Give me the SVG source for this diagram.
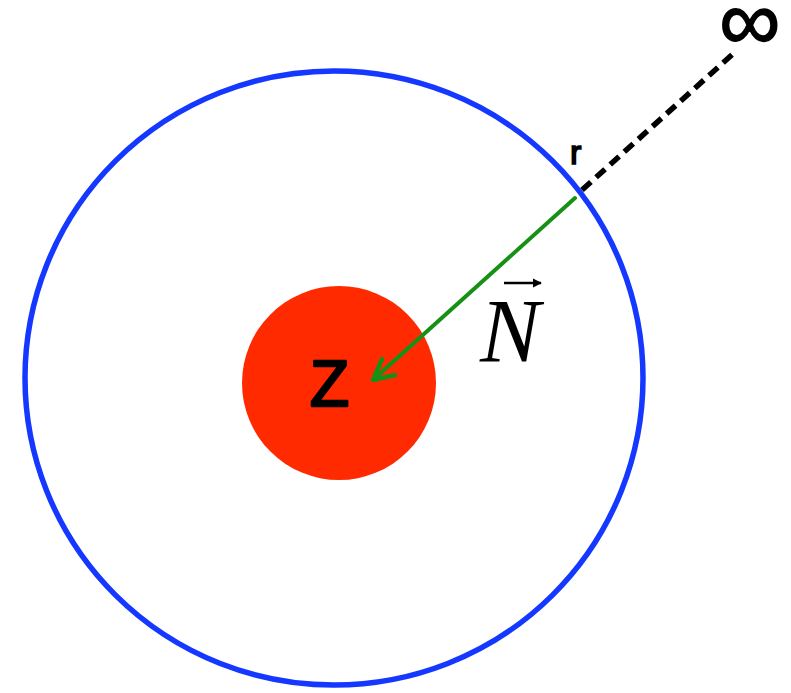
<svg xmlns="http://www.w3.org/2000/svg" width="791" height="693" viewBox="0 0 791 693">
  <style>
    .lbl { font-family: "Liberation Sans", "DejaVu Sans", sans-serif; fill: #000; }
    .math { font-family: "Liberation Serif", "DejaVu Serif", serif; font-style: italic; fill: #000; }
  </style>
  <defs>
    <marker id="vecHead" viewBox="0 0 10 10" refX="9" refY="5" markerWidth="3.5" markerHeight="3.5" orient="auto" markerUnits="strokeWidth">
      <path d="M0,0 L10,5 L0,10 Z" fill="#000"/>
    </marker>
  </defs>
  <rect width="791" height="693" fill="#fff"/>

  <g id="outer-sphere">
    <ellipse cx="334" cy="378" rx="309" ry="307" fill="none" stroke="#1438ff" stroke-width="5.5"/>
  </g>

  <g id="nucleus">
    <circle cx="339" cy="383" r="97" fill="#ff2a00"/>
    <text class="lbl" x="310" y="406" font-size="64" stroke="#000" stroke-width="2.6" stroke-linejoin="round">Z</text>
  </g>

  <g id="connectors">
    <line x1="582" y1="190" x2="735" y2="52" stroke="#000" stroke-width="5.5" stroke-dasharray="12,7"/>
    <line x1="575" y1="198" x2="374" y2="379" stroke="#169116" stroke-width="4" stroke-linecap="round"/>
    <polyline points="382,359 373,380 395,375" fill="none" stroke="#169116" stroke-width="4.5" stroke-linecap="round" stroke-linejoin="round"/>
  </g>

  <g id="label-r">
    <text class="lbl" x="570" y="164" font-size="34" stroke="#000" stroke-width="1.6">r</text>
  </g>

  <g id="label-infinity">
    <text class="lbl" x="719" y="50" font-size="86" stroke="#000" stroke-width="1.4">∞</text>
  </g>

  <g id="label-N">
    <text class="math" x="480" y="362" font-size="90">N</text>
    <line x1="504" y1="283" x2="541" y2="283" stroke="#000" stroke-width="2.6" marker-end="url(#vecHead)"/>
  </g>
</svg>
